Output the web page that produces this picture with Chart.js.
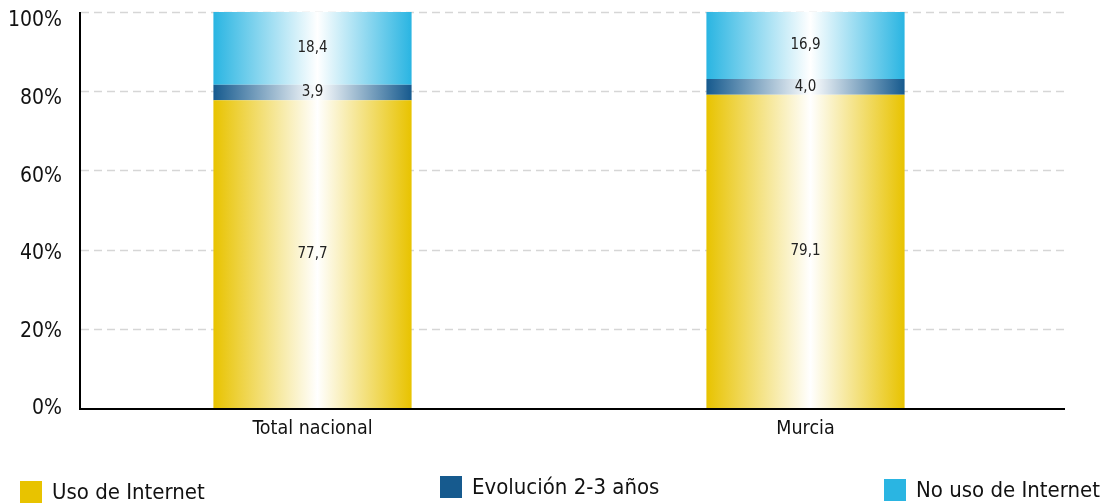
<!DOCTYPE html>
<html>
<head>
<meta charset="utf-8">
<script src="https://cdn.jsdelivr.net/npm/chart.js@4/dist/chart.umd.min.js"></script>
<style>
  html, body { margin: 0; padding: 0; background: #fff; }
  #wrap { width: 1106px; height: 504px; }
</style>
</head>
<body>
<div id="wrap"><canvas id="chart"></canvas></div>
<script>
const categories = ['Total nacional', 'Murcia']
const seriesNames = ['Uso de Internet', 'Evolución 2-3 años', 'No uso de Internet']
const usoInternet = [77.7, 79.1]
const evolucion = [3.9, 4.0]
const noUso = [18.4, 16.9]
const yTicks = [0, 20, 40, 60, 80, 100]

const colors = ['#E8C300', '#165A8E', '#2AB5E2']
const FONT = '"DejaVu Sans Condensed", "DejaVu Sans", sans-serif'

// horizontal gradient: strong colour at the edges, white in the middle
function barGradient(color) {
    return function(context) {
        const chart = context.chart
        const xs = chart.scales.x
        if (!xs || !chart.chartArea) return color
        const center = xs.getPixelForValue(context.dataIndex)
        const half = 99
        const g = chart.ctx.createLinearGradient(center - half, 0, center + half, 0)
        g.addColorStop(0, color)
        g.addColorStop(0.525, '#ffffff')
        g.addColorStop(1, color)
        return g
    }
}

const gridAndAxes = {
    id: 'gridAndAxes',
    beforeDatasetsDraw(chart) {
        const ctx = chart.ctx
        const y = chart.scales.y
        ctx.save()
        ctx.strokeStyle = '#d6d6d6'
        ctx.lineWidth = 1.5
        ctx.setLineDash([8, 5])
        yTicks.forEach(function(t) {
            if (t == 0) return
            const py = Math.round(y.getPixelForValue(t)) + 0.5
            ctx.beginPath()
            ctx.moveTo(81, py)
            ctx.lineTo(1065, py)
            ctx.stroke()
        })
        ctx.restore()
    },
    afterDatasetsDraw(chart) {
        const ctx = chart.ctx
        const y = chart.scales.y
        const top = y.getPixelForValue(100)
        const bottom = y.getPixelForValue(0)
        ctx.save()
        ctx.strokeStyle = '#000'
        ctx.lineWidth = 2
        ctx.beginPath()
        ctx.moveTo(80, top)
        ctx.lineTo(80, bottom + 1)
        ctx.lineTo(1065, bottom + 1)
        ctx.stroke()

        // values inside the segments
        ctx.fillStyle = '#222'
        ctx.font = '15px ' + FONT
        ctx.textAlign = 'center'
        ctx.textBaseline = 'middle'
        chart.data.datasets.forEach(function(ds, i) {
            const meta = chart.getDatasetMeta(i)
            meta.data.forEach(function(bar, j) {
                const p = bar.getProps(['x', 'y', 'base'], true)
                const txt = ds.data[j].toFixed(1).replace('.', ',')
                ctx.fillText(txt, p.x, (p.y + p.base) / 2)
            })
        })

        // legend at the bottom
        const legendX = [20, 440, 884]
        const legendY = [492, 487, 490]
        ctx.font = '22px ' + FONT
        ctx.textAlign = 'left'
        chart.data.datasets.forEach(function(ds, i) {
            ctx.fillStyle = colors[i]
            ctx.fillRect(legendX[i], legendY[i] - 11, 22, 22)
            ctx.fillStyle = '#111'
            ctx.fillText(ds.label, legendX[i] + 32, legendY[i] + 1)
        })
        ctx.restore()
    }
}

const seriesData = [usoInternet, evolucion, noUso]

new Chart(document.getElementById('chart'), {
    type: 'bar',
    data: {
        labels: categories,
        datasets: seriesNames.map(function(name, i) {
            return {
                label: name,
                data: seriesData[i],
                backgroundColor: barGradient(colors[i]),
                borderWidth: 0,
                categoryPercentage: 1,
                barPercentage: 0.402
            }
        })
    },
    options: {
        responsive: true,
        maintainAspectRatio: false,
        animation: false,
        layout: { padding: { top: 12, right: 54, left: 0, bottom: 0 } },
        plugins: {
            legend: { display: false },
            tooltip: { enabled: false }
        },
        scales: {
            x: {
                stacked: true,
                grid: { display: false, drawTicks: false },
                border: { display: false },
                ticks: { color: '#111', font: { family: FONT, size: 19.5 }, padding: 9 },
                afterFit: function(scale) {
                    scale.height = 96
                    scale.paddingLeft = 0
                    scale.paddingRight = 0
                }
            },
            y: {
                stacked: true,
                display: false,
                min: 0,
                max: 100
            },
            // label axis: the percent labels sit slightly lower than their grid lines
            yLabels: {
                position: 'left',
                min: 0.26,
                max: 102.32,
                grid: { display: false, drawTicks: false },
                border: { display: false },
                afterBuildTicks: function(scale) {
                    scale.ticks = yTicks.map(function(v) { return { value: v } })
                },
                ticks: {
                    color: '#111',
                    font: { family: FONT, size: 21 },
                    padding: 4,
                    callback: function(v) { return v + '%' }
                },
                afterFit: function(scale) {
                    scale.width = 66
                    scale.paddingTop = 0
                    scale.paddingBottom = 0
                }
            }
        }
    },
    plugins: [gridAndAxes]
})
</script>
</body>
</html>
